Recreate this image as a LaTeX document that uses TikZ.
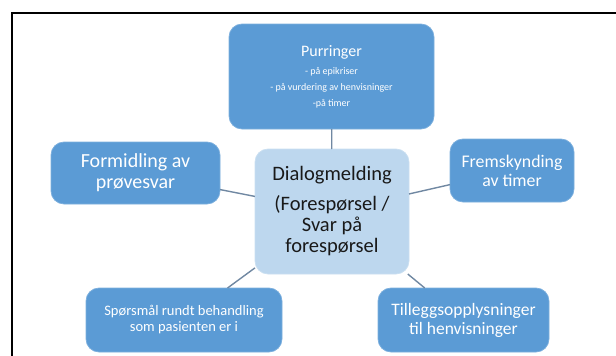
\documentclass[tikz,border=0pt]{standalone}
\usepackage{fontspec}
\setmainfont{Carlito}
\usepackage{tikz}
\usetikzlibrary{positioning}
\definecolor{boksblaa}{RGB}{91,155,213}
\definecolor{lysblaa}{RGB}{189,215,238}
\definecolor{linjefarge}{RGB}{112,136,162}
\tikzset{every picture/.style={line width=0.75pt}}
\tikzset{
  boks/.style={rectangle, rounded corners=13pt, fill=boksblaa, draw=boksblaa!80!white,
    text=white, align=center, inner sep=0pt, outer sep=0pt},
  midt/.style={boks, fill=lysblaa, draw=lysblaa!80!white, text=black!90},
  kobling/.style={draw=linjefarge, line width=1.4pt}
}

\begin{document}
\begin{tikzpicture}[x=1pt, y=-1pt]
    \useasboundingbox (0,0) rectangle (616,356);

    % ramme
    \draw[line width=2pt, black] (12,356) -- (12,12.5) -- (616,12.5);

    % midten
    \node[midt, minimum width=154pt, minimum height=125pt,
      font=\fontsize{20.5}{21}\selectfont] (dialog) at (332,211.5)
      {Dialogmelding\\[9pt](Forespørsel /\\Svar på\\forespørsel};

    % purringer
    \node[boks, minimum width=205pt, minimum height=105pt,
      font=\fontsize{16}{16}\selectfont] (purring) at (331.5,76.5)
      {Purringer\\[2pt]\fontsize{10}{16}\selectfont - på epikriser\\
       \fontsize{10}{16}\selectfont - på vurdering av henvisninger\\
       \fontsize{10}{16}\selectfont -på timer};

    % formidling
    \node[boks, minimum width=169pt, minimum height=62pt,
      font=\fontsize{20}{21}\selectfont] (formidling) at (135.5,173)
      {Formidling av\\prøvesvar};

    % fremskynding
    \node[boks, minimum width=124pt, minimum height=63pt,
      font=\fontsize{17.8}{19}\selectfont] (fremskynding) at (512,170.5)
      {Fremskynding\\av timer};

    % spørsmål
    \node[boks, minimum width=196pt, minimum height=64pt,
      font=\fontsize{14.5}{16}\selectfont] (sporsmal) at (184,320)
      {Spørsmål rundt behandling\\som pasienten er i};

    % tilleggsopplysninger
    \node[boks, minimum width=171pt, minimum height=64pt,
      font=\fontsize{17.5}{19}\selectfont] (tillegg) at (463.5,320)
      {Tilleggsopplysninger\\til henvisninger};

    % koblinger
    \draw[kobling] (purring) -- (dialog);
    \draw[kobling] (formidling) -- (dialog);
    \draw[kobling] (fremskynding) -- (dialog);
    \draw[kobling] (sporsmal) -- (dialog);
    \draw[kobling] (tillegg) -- (dialog);
\end{tikzpicture}
\end{document}
